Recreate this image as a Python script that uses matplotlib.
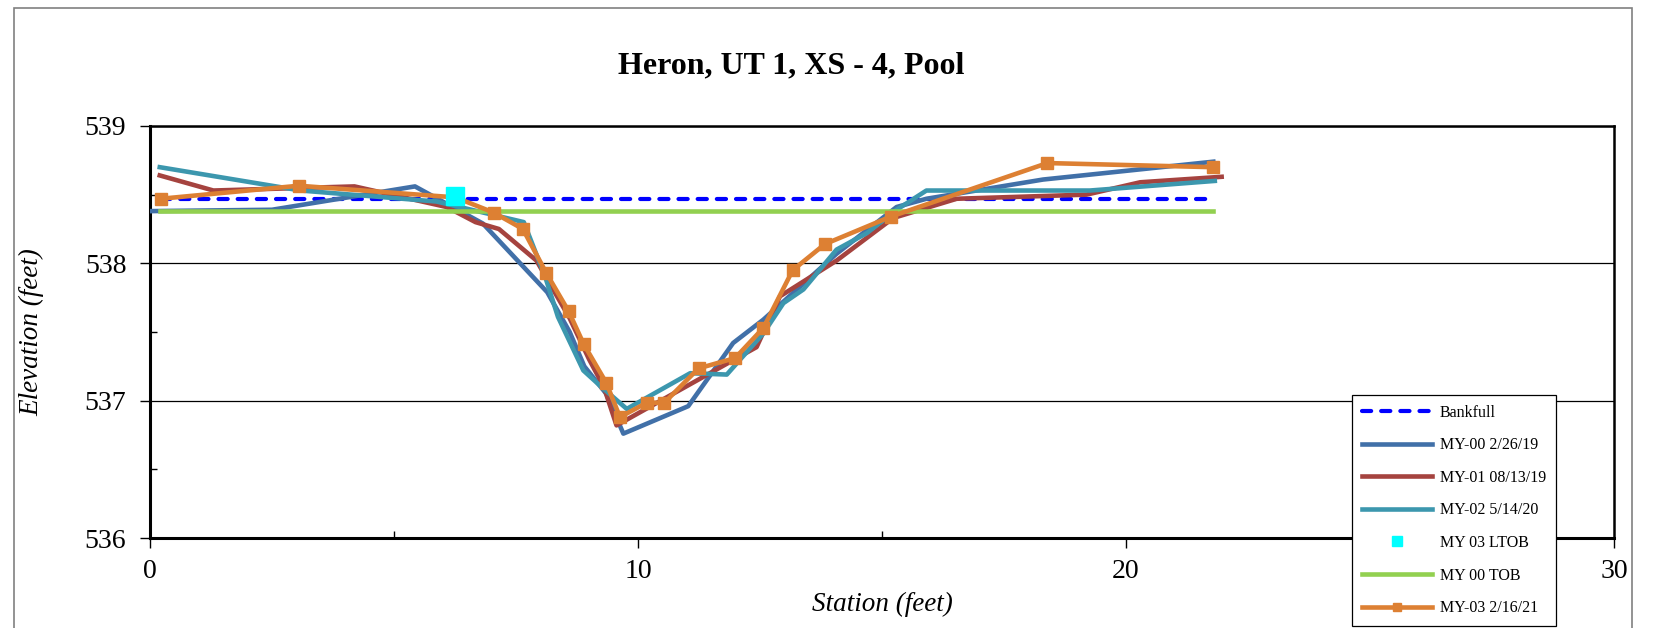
import matplotlib
matplotlib.use("Agg")
import matplotlib.pyplot as plt
from matplotlib.patches import Rectangle
from matplotlib.ticker import MultipleLocator

plt.rcParams['font.family'] = ['Liberation Serif', 'DejaVu Serif']

# bankfull and top of bank elevations
bankfull_x = [0.22, 21.78]
bankfull_y = [538.47, 538.47]
tob_x = [0.2, 21.78]
tob_y = [538.38, 538.38]

# MY-00 2/26/19
my00_x = [0.0, 2.5, 5.43, 6.82, 8.14, 8.6, 8.9, 9.35, 9.70, 11.03, 11.95, 12.57, 14.07, 15.3, 15.91, 18.3, 21.79]
my00_y = [538.38, 538.39, 538.56, 538.29, 537.79, 537.5, 537.25, 537.05, 536.76, 536.96, 537.42, 537.59, 538.07, 538.41, 538.47, 538.61, 538.74]

# MY-01 08/13/19
my01_x = [0.2, 1.3, 4.19, 6.08, 6.67, 7.15, 7.92, 8.6, 9.0, 9.3, 9.56, 12.43, 12.91, 14.07, 15.23, 16.53, 19.19, 20.29, 21.96]
my01_y = [538.64, 538.53, 538.56, 538.41, 538.30, 538.25, 538.02, 537.6, 537.3, 537.1, 536.82, 537.39, 537.76, 538.02, 538.33, 538.47, 538.50, 538.59, 538.63]

# MY-02 5/14/20
my02_x = [0.2, 3.09, 5.87, 7.66, 8.1, 8.36, 8.88, 9.22, 9.77, 11.07, 11.82, 12.57, 12.98, 13.39, 14.07, 14.69, 15.3, 15.91, 19.26, 21.82]
my02_y = [538.70, 538.53, 538.45, 538.30, 537.9, 537.61, 537.22, 537.11, 536.94, 537.20, 537.19, 537.49, 537.71, 537.81, 538.10, 538.22, 538.39, 538.53, 538.53, 538.60]

# MY 03 LTOB
ltob_x = [6.26]
ltob_y = [538.49]

# MY-03 2/16/21
my03_x = [0.22, 3.05, 6.26, 7.04, 7.64, 8.12, 8.58, 8.89, 9.35, 9.63, 10.18, 10.54, 11.24, 11.99, 12.57, 13.17, 13.83, 15.18, 18.39, 21.78]
my03_y = [538.47, 538.565, 538.48, 538.37, 538.25, 537.93, 537.65, 537.41, 537.13, 536.88, 536.985, 536.985, 537.235, 537.31, 537.53, 537.95, 538.14, 538.34, 538.73, 538.70]

fig = plt.figure(figsize=(16.61, 6.28), dpi=100)
ax = fig.add_axes([0.0903, 0.1433, 0.8814, 0.6561])

# outer chart border
fig.patches.append(Rectangle((14 / 1661, -0.05), (1632 - 14) / 1661, 1.05 - 8 / 628,
                             transform=fig.transFigure, fill=False,
                             edgecolor='#808080', linewidth=1.2))

lw = 3.3
ax.plot(bankfull_x, bankfull_y, color='#0000FF', lw=3.0, linestyle=(0, (2.2, 2.4)),
        dash_capstyle='round', label='Bankfull', zorder=3)
ax.plot(my00_x, my00_y, color='#4170A8', lw=lw, label='MY-00 2/26/19', zorder=4)
ax.plot(my01_x, my01_y, color='#A5433F', lw=lw, label='MY-01 08/13/19', zorder=4)
ax.plot(my02_x, my02_y, color='#3C97AE', lw=lw, label='MY-02 5/14/20', zorder=4)
ax.plot(ltob_x, ltob_y, linestyle='none', marker='s', markersize=12.5,
        color='#00FFFF', label='MY 03 LTOB', zorder=7)
ax.plot(tob_x, tob_y, color='#92D050', lw=lw, label='MY 00 TOB', zorder=5)
ax.plot(my03_x, my03_y, color='#DD8033', lw=lw, marker='s', markersize=9,
        label='MY-03 2/16/21', zorder=6)

ax.set_xlim(0, 30)
ax.set_ylim(536, 539)
ax.xaxis.set_major_locator(MultipleLocator(10))
ax.xaxis.set_minor_locator(MultipleLocator(5))
ax.yaxis.set_major_locator(MultipleLocator(1))
ax.yaxis.set_minor_locator(MultipleLocator(0.5))
ax.tick_params(which='major', direction='out', length=7, width=1, labelsize=20)
ax.tick_params(axis='y', which='major', pad=10)
ax.tick_params(axis='x', which='major', pad=8)
ax.tick_params(which='minor', direction='in', length=5, width=1)
ax.grid(axis='y', which='major', color='black', lw=0.9)
for side in ['left', 'bottom']:
    ax.spines[side].set_linewidth(2.2)
for side in ['top', 'right']:
    ax.spines[side].set_linewidth(1.8)

ax.set_xlabel('Station (feet)', fontsize=19.5, style='italic', labelpad=6)
ax.set_ylabel('Elevation (feet)', fontsize=19.5, style='italic', labelpad=29)
fig.text(791 / 1661, 1 - 66 / 628, 'Heron, UT 1, XS - 4, Pool', ha='center', va='center',
         fontsize=23, fontweight='bold')

leg = ax.legend(loc='upper left', bbox_to_anchor=(1352 / 1661, 1 - 395 / 628),
                bbox_transform=fig.transFigure, fontsize=11.5, frameon=True,
                fancybox=False, framealpha=1, edgecolor='black', markerscale=0.6,
                handlelength=4.4, handletextpad=0.5, labelspacing=1.04,
                borderpad=0.6, borderaxespad=0)
leg.get_frame().set_linewidth(0.9)
leg.set_zorder(10)

fig.savefig('out.png', dpi=100)
